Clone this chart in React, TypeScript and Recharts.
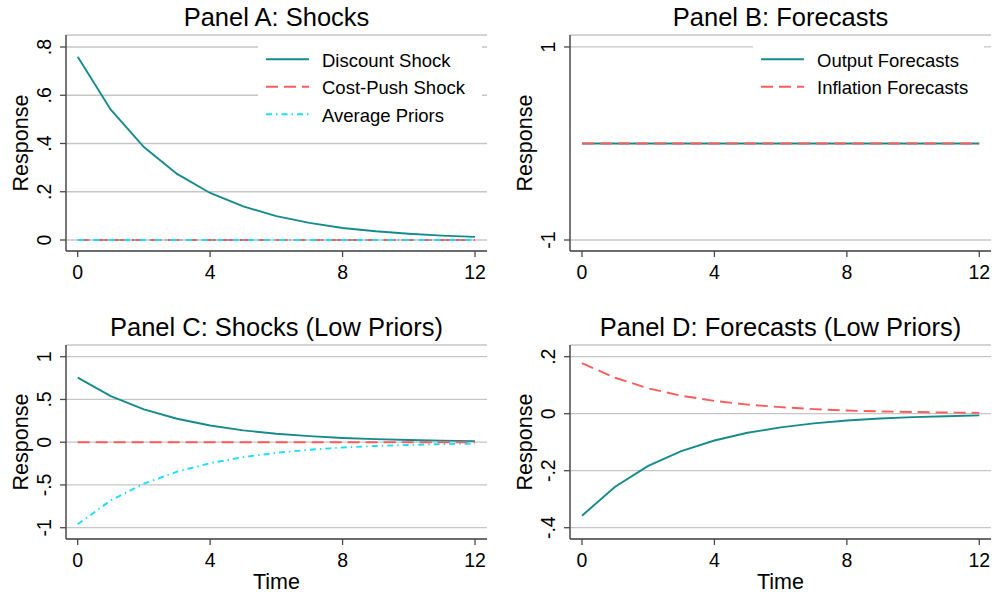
import React from 'react';
import { LineChart, Line, XAxis, YAxis, CartesianGrid, Legend } from 'recharts';

const FONT = '"Liberation Sans", Arial, Helvetica, sans-serif';

// ---- data ----
const periods = [0, 1, 2, 3, 4, 5, 6, 7, 8, 9, 10, 11, 12];

// Panel A: Shocks
const discountShock = [0.76, 0.54, 0.385, 0.274, 0.195, 0.139, 0.099, 0.071, 0.05, 0.036, 0.026, 0.018, 0.013];
const costPushShock = [0, 0, 0, 0, 0, 0, 0, 0, 0, 0, 0, 0, 0];
const averagePriors = [0, 0, 0, 0, 0, 0, 0, 0, 0, 0, 0, 0, 0];

// Panel B: Forecasts
const outputForecasts = [0, 0, 0, 0, 0, 0, 0, 0, 0, 0, 0, 0, 0];
const inflationForecasts = [0, 0, 0, 0, 0, 0, 0, 0, 0, 0, 0, 0, 0];

// Panel C: Shocks (Low Priors)
const discountShockLow = [0.755, 0.54, 0.385, 0.274, 0.195, 0.139, 0.099, 0.071, 0.05, 0.036, 0.026, 0.018, 0.013];
const costPushShockLow = [0, 0, 0, 0, 0, 0, 0, 0, 0, 0, 0, 0, 0];
const averagePriorsLow = [-0.96, -0.68, -0.485, -0.345, -0.245, -0.174, -0.124, -0.088, -0.062, -0.044, -0.032, -0.022, -0.016];

// Panel D: Forecasts (Low Priors)
const outputForecastsLow = [-0.358, -0.256, -0.183, -0.131, -0.094, -0.067, -0.048, -0.034, -0.024, -0.017, -0.012, -0.009, -0.006];
const inflationForecastsLow = [0.177, 0.126, 0.089, 0.063, 0.045, 0.032, 0.023, 0.016, 0.011, 0.008, 0.006, 0.004, 0.003];

// ticks
const xTicks = [0, 4, 8, 12];
const xTickLabels = ['0', '4', '8', '12'];
const yTicksA = [0, 0.2, 0.4, 0.6, 0.8];
const yLabelsA = ['0', '.2', '.4', '.6', '.8'];
const yTicksB = [-1, 1];
const yLabelsB = ['-1', '1'];
const yTicksC = [-1, -0.5, 0, 0.5, 1];
const yLabelsC = ['-1', '-.5', '0', '.5', '1'];
const yTicksD = [-0.4, -0.2, 0, 0.2];
const yLabelsD = ['-.4', '-.2', '0', '.2'];

// ---- styles ----
const TEAL = '#168b8b';
const RED = '#fa5c5c';
const CYAN = '#1edcff';
const GRID = '#c6c6c6';
const AXIS = '#4a4a4a';
const SOLID = undefined;
const DASH = '12 6';
const DASHDOT = '6 4 1.5 4';

type SeriesSpec = { key: string; name: string; values: number[]; color: string; dash?: string };

function buildRows(series: SeriesSpec[]) {
  return periods.map((t, i) => {
    const row: Record<string, number> = { t };
    series.forEach((s) => {
      row[s.key] = s.values[i];
    });
    return row;
  });
}

const makeYTick = (ticks: number[], labels: string[]) => (props: any) => {
  const { x, y, payload } = props;
  const idx = ticks.findIndex((v) => Math.abs(v - payload.value) < 1e-9);
  const bx = x - 9;
  return (
    <text
      x={bx}
      y={y}
      transform={`rotate(-90 ${bx} ${y})`}
      textAnchor="middle"
      fontSize={19.5}
      fontFamily={FONT}
      fill="#000"
    >
      {idx >= 0 ? labels[idx] : ''}
    </text>
  );
};

const XTick = (props: any) => {
  const { x, y, payload } = props;
  const idx = xTicks.indexOf(payload.value);
  return (
    <text x={x} y={y + 21.5} textAnchor="middle" fontSize={19.5} fontFamily={FONT} fill="#000">
      {idx >= 0 ? xTickLabels[idx] : ''}
    </text>
  );
};

const yTitle = (props: any) => {
  const vb = props.viewBox || {};
  const bx = vb.x + vb.width - 38;
  const cy = vb.y + vb.height / 2;
  return (
    <text
      x={bx}
      y={cy}
      transform={`rotate(-90 ${bx} ${cy})`}
      textAnchor="middle"
      fontSize={21.5}
      fontFamily={FONT}
      fill="#000"
    >
      Response
    </text>
  );
};

const xTitle = (props: any) => {
  const vb = props.viewBox || {};
  return (
    <text x={vb.x + vb.width / 2} y={vb.y + 49.5} textAnchor="middle" fontSize={21.5} fontFamily={FONT} fill="#000">
      Time
    </text>
  );
};

type LegendSpec = { left: number; top: number; width: number; height: number };

const makeLegend = (series: SeriesSpec[], box: LegendSpec) => () => (
  <svg width={box.width} height={box.height} style={{ display: 'block' }}>
    {series.map((s, i) => {
      const ly = 23.3 + i * 27.5;
      return (
        <g key={s.key}>
          <line x1={8} x2={51} y1={ly} y2={ly} stroke={s.color} strokeWidth={2} strokeDasharray={s.dash} />
          <text x={64} y={ly + 7.4} fontSize={18.5} fontFamily={FONT} fill="#000">
            {s.name}
          </text>
        </g>
      );
    })}
  </svg>
);

type PanelProps = {
  left: number;
  top: number;
  width: number;
  height: number;
  marginTop: number;
  marginRight: number;
  yAxisWidth: number;
  xAxisHeight: number;
  title: string;
  titleBaseline: number;
  series: SeriesSpec[];
  xDomain: [number, number];
  yDomain: [number, number];
  yTicks: number[];
  yLabels: string[];
  showTime: boolean;
  legend?: LegendSpec;
};

function Panel(p: PanelProps) {
  const data = buildRows(p.series);
  const plotWidth = p.width - p.yAxisWidth - p.marginRight;
  const titleX = p.yAxisWidth + plotWidth / 2;
  return (
    <div style={{ position: 'absolute', left: p.left, top: p.top, width: p.width, height: p.height }}>
      <svg
        width={p.width}
        height={p.height}
        style={{ position: 'absolute', left: 0, top: 0, pointerEvents: 'none' }}
      >
        <text x={titleX} y={p.titleBaseline} textAnchor="middle" fontSize={25.5} fontFamily={FONT} fill="#000">
          {p.title}
        </text>
      </svg>
      <div style={{ position: 'absolute', left: 0, top: 0 }}>
        <LineChart
          width={p.width}
          height={p.height}
          data={data}
          margin={{ top: p.marginTop, right: p.marginRight, bottom: 0, left: 0 }}
        >
          <CartesianGrid horizontal vertical={false} stroke={GRID} strokeWidth={1.3} />
          <XAxis
            dataKey="t"
            type="number"
            domain={p.xDomain}
            ticks={xTicks}
            allowDataOverflow
            interval={0}
            height={p.xAxisHeight}
            tickSize={6}
            tickMargin={0}
            tick={XTick}
            tickLine={{ stroke: AXIS, strokeWidth: 1.3 }}
            axisLine={{ stroke: AXIS, strokeWidth: 1.5 }}
            label={p.showTime ? xTitle : undefined}
          />
          <YAxis
            type="number"
            domain={p.yDomain}
            ticks={p.yTicks}
            allowDataOverflow
            interval={0}
            width={p.yAxisWidth}
            tickSize={6}
            tickMargin={0}
            tick={makeYTick(p.yTicks, p.yLabels)}
            tickLine={{ stroke: AXIS, strokeWidth: 1.3 }}
            axisLine={{ stroke: AXIS, strokeWidth: 1.5 }}
            label={yTitle}
          />
          {p.series.map((s) => (
            <Line
              key={s.key}
              type="linear"
              dataKey={s.key}
              name={s.name}
              stroke={s.color}
              strokeWidth={1.9}
              strokeDasharray={s.dash}
              dot={false}
              activeDot={false}
              isAnimationActive={false}
            />
          ))}
          {p.legend ? (
            <Legend
              layout="vertical"
              align="center"
              verticalAlign="middle"
              content={makeLegend(p.series, p.legend)}
              wrapperStyle={{
                left: p.legend.left,
                top: p.legend.top,
                width: p.legend.width,
                height: p.legend.height,
                backgroundColor: '#fff',
                margin: 0,
                padding: 0,
              }}
            />
          ) : null}
        </LineChart>
      </div>
    </div>
  );
}

const seriesA: SeriesSpec[] = [
  { key: 'discount', name: 'Discount Shock', values: discountShock, color: TEAL, dash: SOLID },
  { key: 'costpush', name: 'Cost-Push Shock', values: costPushShock, color: RED, dash: DASH },
  { key: 'priors', name: 'Average Priors', values: averagePriors, color: CYAN, dash: DASHDOT },
];
const seriesB: SeriesSpec[] = [
  { key: 'output', name: 'Output Forecasts', values: outputForecasts, color: TEAL, dash: SOLID },
  { key: 'inflation', name: 'Inflation Forecasts', values: inflationForecasts, color: RED, dash: DASH },
];
const seriesC: SeriesSpec[] = [
  { key: 'discount', name: 'Discount Shock', values: discountShockLow, color: TEAL, dash: SOLID },
  { key: 'costpush', name: 'Cost-Push Shock', values: costPushShockLow, color: RED, dash: DASH },
  { key: 'priors', name: 'Average Priors', values: averagePriorsLow, color: CYAN, dash: DASHDOT },
];
const seriesD: SeriesSpec[] = [
  { key: 'output', name: 'Output Forecasts', values: outputForecastsLow, color: TEAL, dash: SOLID },
  { key: 'inflation', name: 'Inflation Forecasts', values: inflationForecastsLow, color: RED, dash: DASH },
];

export default function App() {
  return (
    <div
      style={{
        position: 'absolute',
        left: 0,
        top: 0,
        width: 997,
        height: 598,
        background: '#fff',
        overflow: 'hidden',
      }}
    >
      <Panel
        left={0}
        top={0}
        width={498}
        height={300}
        marginTop={35}
        marginRight={11}
        yAxisWidth={66}
        xAxisHeight={49}
        title="Panel A: Shocks"
        titleBaseline={26}
        series={seriesA}
        xDomain={[-0.353, 12.362]}
        yDomain={[-0.0456, 0.8497]}
        yTicks={yTicksA}
        yLabels={yLabelsA}
        showTime={false}
        legend={{ left: 258, top: 36, width: 224, height: 97 }}
      />
      <Panel
        left={497}
        top={0}
        width={500}
        height={300}
        marginTop={35}
        marginRight={6}
        yAxisWidth={73}
        xAxisHeight={49}
        title="Panel B: Forecasts"
        titleBaseline={26}
        series={seriesB}
        xDomain={[-0.362, 12.353]}
        yDomain={[-1.114, 1.124]}
        yTicks={yTicksB}
        yLabels={yLabelsB}
        showTime={false}
        legend={{ left: 256, top: 36, width: 231, height: 70 }}
      />
      <Panel
        left={0}
        top={300}
        width={498}
        height={298}
        marginTop={45}
        marginRight={11}
        yAxisWidth={66}
        xAxisHeight={59}
        title="Panel C: Shocks (Low Priors)"
        titleBaseline={35.5}
        series={seriesC}
        xDomain={[-0.353, 12.362]}
        yDomain={[-1.132, 1.137]}
        yTicks={yTicksC}
        yLabels={yLabelsC}
        showTime
      />
      <Panel
        left={497}
        top={300}
        width={500}
        height={298}
        marginTop={45}
        marginRight={6}
        yAxisWidth={73}
        xAxisHeight={59}
        title="Panel D: Forecasts (Low Priors)"
        titleBaseline={35.5}
        series={seriesD}
        xDomain={[-0.362, 12.353]}
        yDomain={[-0.4396, 0.241]}
        yTicks={yTicksD}
        yLabels={yLabelsD}
        showTime
      />
    </div>
  );
}
